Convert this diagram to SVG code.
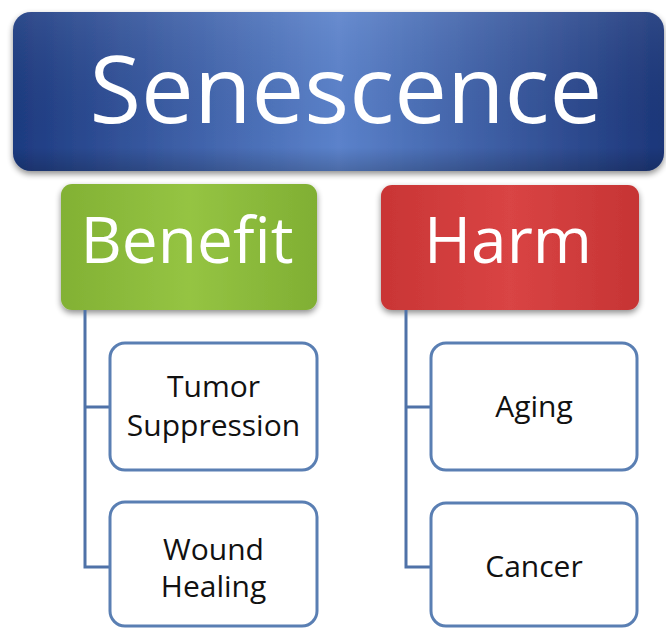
<svg xmlns="http://www.w3.org/2000/svg" width="666" height="628" viewBox="0 0 666 628">
  <defs>
    <linearGradient id="blueFill" x1="0" y1="0" x2="1" y2="0">
      <stop offset="0" stop-color="#1d3a80"/>
      <stop offset="0.5" stop-color="#5b82cb"/>
      <stop offset="1" stop-color="#1c3679"/>
    </linearGradient>
    <linearGradient id="blueShade" x1="0" y1="0" x2="0" y2="1">
      <stop offset="0" stop-color="#ffffff" stop-opacity="0.08"/>
      <stop offset="0.85" stop-color="#000000" stop-opacity="0"/>
      <stop offset="1" stop-color="#000000" stop-opacity="0.18"/>
    </linearGradient>
    <linearGradient id="greenFill" x1="0" y1="0" x2="1" y2="0">
      <stop offset="0" stop-color="#82b134"/>
      <stop offset="0.5" stop-color="#95c443"/>
      <stop offset="1" stop-color="#80af33"/>
    </linearGradient>
    <linearGradient id="redFill" x1="0" y1="0" x2="1" y2="0">
      <stop offset="0" stop-color="#c93535"/>
      <stop offset="0.5" stop-color="#d94444"/>
      <stop offset="1" stop-color="#c63434"/>
    </linearGradient>
    <filter id="shadow" x="-5%" y="-10%" width="110%" height="130%">
      <feGaussianBlur in="SourceAlpha" stdDeviation="3"/>
      <feOffset dy="3" result="b"/>
      <feComponentTransfer><feFuncA type="linear" slope="0.45"/></feComponentTransfer>
      <feMerge><feMergeNode/><feMergeNode in="SourceGraphic"/></feMerge>
    </filter>
    <style>
      .head { font-family: "Open Sans", "Noto Sans", sans-serif; fill: #ffffff; text-anchor: middle; }
      .leaf { fill: #ffffff; stroke: #5a7fb3; stroke-width: 3; }
      .leafText { font-family: "Open Sans", "Noto Sans", sans-serif; font-size: 30px; fill: #111111; text-anchor: middle; }
      .link { fill: none; stroke: #4f72a8; stroke-width: 3; }
    </style>
  </defs>

  <rect width="666" height="628" fill="#ffffff"/>

  <!-- title -->
  <g id="senescence">
    <rect x="13" y="12" width="651" height="159" rx="18" fill="url(#blueFill)" filter="url(#shadow)"/>
    <rect x="13" y="12" width="651" height="159" rx="18" fill="url(#blueShade)"/>
    <text class="head" x="346" y="123" font-size="94">Senescence</text>
  </g>

  <!-- categories -->
  <g id="benefit">
    <rect x="61" y="184" width="256" height="126" rx="11" fill="url(#greenFill)" filter="url(#shadow)"/>
    <text class="head" x="187" y="263" font-size="64">Benefit</text>
  </g>
  <g id="harm">
    <rect x="381" y="185" width="258" height="125" rx="11" fill="url(#redFill)" filter="url(#shadow)"/>
    <text class="head" x="508" y="263" font-size="64">Harm</text>
  </g>

  <!-- connectors -->
  <g id="connectors">
    <path class="link" d="M85 310 V567 H110 M85 407 H110"/>
    <path class="link" d="M406 310 V567 H431 M406 407 H431"/>
  </g>

  <!-- leaves -->
  <g id="tumor-suppression">
    <rect class="leaf" x="110" y="343" width="207" height="127" rx="15"/>
    <text class="leafText" x="213.5" y="397">Tumor</text>
    <text class="leafText" x="213.5" y="436">Suppression</text>
  </g>
  <g id="wound-healing">
    <rect class="leaf" x="110" y="502" width="207" height="124" rx="15"/>
    <text class="leafText" x="213.5" y="560">Wound</text>
    <text class="leafText" x="213.5" y="597">Healing</text>
  </g>
  <g id="aging">
    <rect class="leaf" x="431" y="343" width="206" height="127" rx="15"/>
    <text class="leafText" x="534" y="417">Aging</text>
  </g>
  <g id="cancer">
    <rect class="leaf" x="431" y="503" width="206" height="123" rx="15"/>
    <text class="leafText" x="534" y="577">Cancer</text>
  </g>
</svg>
